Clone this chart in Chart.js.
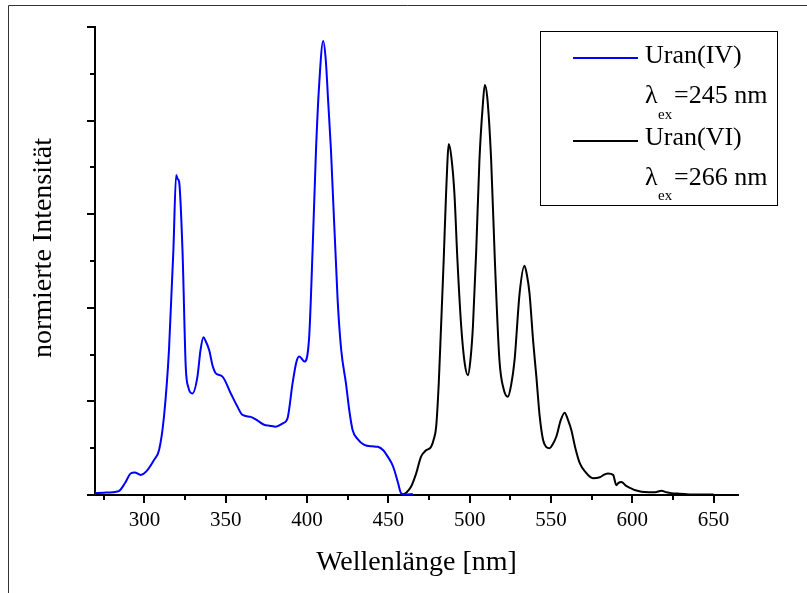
<!DOCTYPE html>
<html>
<head>
<meta charset="utf-8">
<script src="https://cdn.jsdelivr.net/npm/chart.js@4.4.1/dist/chart.umd.min.js"></script>
<style>
  body { margin: 0; background: #fff; }
  canvas { display: block; }
</style>
</head>
<body>
<canvas id="myChart" width="807" height="593"></canvas>
<script>
// Uran(IV), lambda_ex = 245 nm
const uran4Wl = [269.6, 275, 284, 288, 291.5, 294, 297.7, 301, 305.9, 309, 312, 315.1, 317.8, 319.5, 320.5, 321.3, 323.4, 325.4, 327, 329.5,
  332.6, 334.5, 336.3, 337.5, 339.8, 342, 343.9, 348, 353.1, 357, 360.3, 365.4, 370, 373.6, 377, 380.8, 385, 388, 391.1, 393.5,
  395.2, 397, 398.3, 401.3, 403.4, 405.5, 407.5, 409.9, 411.5, 413, 414.7, 418.8, 421, 423.9, 426, 428, 431, 435.2, 440, 443.5,
  447, 449.6, 452, 453.7, 456, 457.8, 460, 465]
const uran4Int = [0.004, 0.005, 0.008, 0.025, 0.046, 0.048, 0.043, 0.05, 0.075, 0.096, 0.167, 0.31, 0.523, 0.684, 0.675, 0.67, 0.523, 0.274, 0.23, 0.217,
  0.253, 0.31, 0.337, 0.33, 0.31, 0.275, 0.26, 0.253, 0.217, 0.19, 0.171, 0.167, 0.158, 0.15, 0.148, 0.146, 0.153, 0.164, 0.239, 0.285,
  0.296, 0.29, 0.285, 0.338, 0.523, 0.737, 0.88, 0.97, 0.93, 0.84, 0.737, 0.417, 0.31, 0.239, 0.18, 0.139, 0.12, 0.107, 0.104, 0.103,
  0.095, 0.082, 0.068, 0.053, 0.025, 0.004, 0.001, 0.002]

// Uran(VI), lambda_ex = 266 nm
const uran6Wl = [457.8, 461, 464, 467, 470.1, 473, 476.3, 478, 479.4, 481, 482.4, 484, 485.5, 487.2, 488.8, 490.6, 492.5, 494.8, 497, 498.9,
  500.5, 502, 504, 506, 508, 509.3, 510.8, 513.2, 515.5, 518.3, 521, 523.5, 525.5, 527.6, 530.7, 533.7, 535.2, 536.8, 539, 541,
  543, 545.1, 547, 549.2, 551, 553.3, 556, 558.4, 560.5, 562.5, 565, 567.7, 571, 575.8, 580, 583, 585.1, 588.2, 590.2, 591.5,
  593.3, 596, 599.4, 602, 605.6, 610, 614, 617.9, 621, 624.1, 628, 632, 636.4, 642, 650]
const uran6Int = [0.0, 0.005, 0.018, 0.045, 0.082, 0.095, 0.103, 0.12, 0.146, 0.24, 0.36, 0.5, 0.645, 0.75, 0.72, 0.645, 0.5, 0.36, 0.28, 0.256,
  0.29, 0.36, 0.52, 0.716, 0.83, 0.876, 0.85, 0.716, 0.5, 0.288, 0.225, 0.21, 0.235, 0.288, 0.431, 0.49, 0.47, 0.431, 0.33, 0.253,
  0.17, 0.118, 0.103, 0.1, 0.108, 0.125, 0.16, 0.176, 0.16, 0.139, 0.1, 0.068, 0.05, 0.036, 0.038, 0.044, 0.046, 0.043, 0.021, 0.026,
  0.028, 0.02, 0.014, 0.01, 0.007, 0.006, 0.006, 0.009, 0.006, 0.004, 0.003, 0.002, 0.001, 0.001, 0.001]

const xMinorTicks = [275, 325, 375, 425, 475, 525, 575, 625]
const yMinorTicks = [0.1, 0.3, 0.5, 0.7, 0.9]

const serif = "'Liberation Serif', 'Times New Roman', serif"

function punkte(xs, ys) {
  return xs.map((x, i) => ({ x: x, y: ys[i] }))
}

// kleine Striche, Rahmen, Legende und y-Titel
const extras = {
  id: 'extras',
  afterDraw(chart) {
    const c = chart.ctx
    const xs = chart.scales.x
    const ys = chart.scales.y
    const area = chart.chartArea
    c.save()
    c.strokeStyle = '#000'
    c.lineWidth = 2
    c.beginPath()
    xMinorTicks.forEach(v => {
      const px = Math.round(xs.getPixelForValue(v))
      c.moveTo(px, area.bottom)
      c.lineTo(px, area.bottom + 5)
    })
    yMinorTicks.forEach(v => {
      const py = Math.round(ys.getPixelForValue(v))
      c.moveTo(area.left, py)
      c.lineTo(area.left - 5, py)
    })
    c.stroke()

    // aeusserer Rahmen (nur oben und links sichtbar)
    c.strokeStyle = '#333'
    c.lineWidth = 1
    c.beginPath()
    c.moveTo(8.5, 593)
    c.lineTo(8.5, 5.5)
    c.lineTo(807, 5.5)
    c.stroke()

    // Legende
    c.strokeStyle = '#000'
    c.lineWidth = 1
    c.strokeRect(540.5, 31.5, 237, 174)
    c.lineWidth = 2
    c.strokeStyle = '#0000ff'
    c.beginPath(); c.moveTo(573, 58); c.lineTo(638, 58); c.stroke()
    c.strokeStyle = '#000'
    c.beginPath(); c.moveTo(573, 141); c.lineTo(638, 141); c.stroke()

    c.fillStyle = '#000'
    c.textBaseline = 'alphabetic'
    c.textAlign = 'left'
    c.font = '26px ' + serif
    c.fillText('Uran(IV)', 645, 63)
    c.fillText('Uran(VI)', 645, 145)
    c.fillText('λ', 645, 103)
    c.fillText('λ', 645, 185)
    c.fillText('=245 nm', 674, 103)
    c.fillText('=266 nm', 674, 185)
    c.font = '15px ' + serif
    c.fillText('ex', 658, 119)
    c.fillText('ex', 658, 200)

    // y-Achsentitel
    c.font = '28px ' + serif
    c.translate(44, 248)
    c.rotate(-Math.PI / 2)
    c.textAlign = 'center'
    c.textBaseline = 'middle'
    c.fillText('normierte Intensität', 0, 0)
    c.restore()
  }
}

const ctx = document.getElementById('myChart')

var grafico = new Chart(ctx, {
  type: 'line',
  data: {
    datasets: [{
      label: 'Uran(IV)',
      data: punkte(uran4Wl, uran4Int),
      borderColor: '#0000ff',
      borderWidth: 2,
      pointRadius: 0,
      cubicInterpolationMode: 'monotone'
    }, {
      label: 'Uran(VI)',
      data: punkte(uran6Wl, uran6Int),
      borderColor: '#000000',
      borderWidth: 2,
      pointRadius: 0,
      cubicInterpolationMode: 'monotone'
    }]
  },
  options: {
    responsive: false,
    animation: false,
    layout: { padding: { top: 27, right: 69, left: 0, bottom: 0 } },
    plugins: {
      legend: { display: false },
      tooltip: { enabled: false }
    },
    scales: {
      x: {
        type: 'linear',
        min: 269.6,
        max: 665,
        afterFit: s => { s.height = 98 },
        border: { display: true, color: '#000', width: 2 },
        grid: { drawOnChartArea: false, drawTicks: true, tickLength: 8, color: '#000', lineWidth: 2 },
        ticks: {
          stepSize: 50,
          includeBounds: false,
          autoSkip: false,
          maxRotation: 0,
          padding: 5,
          color: '#000',
          font: { family: serif, size: 21 }
        },
        title: {
          display: true,
          text: 'Wellenlänge [nm]',
          color: '#000',
          font: { family: serif, size: 28 },
          padding: { top: 0, bottom: 14 }
        }
      },
      y: {
        min: 0,
        max: 1,
        afterFit: s => { s.width = 95 },
        border: { display: true, color: '#000', width: 2 },
        grid: { drawOnChartArea: false, drawTicks: true, tickLength: 8, color: '#000', lineWidth: 2 },
        ticks: {
          stepSize: 0.2,
          callback: () => ''
        }
      }
    }
  },
  plugins: [extras]
})
</script>
</body>
</html>
